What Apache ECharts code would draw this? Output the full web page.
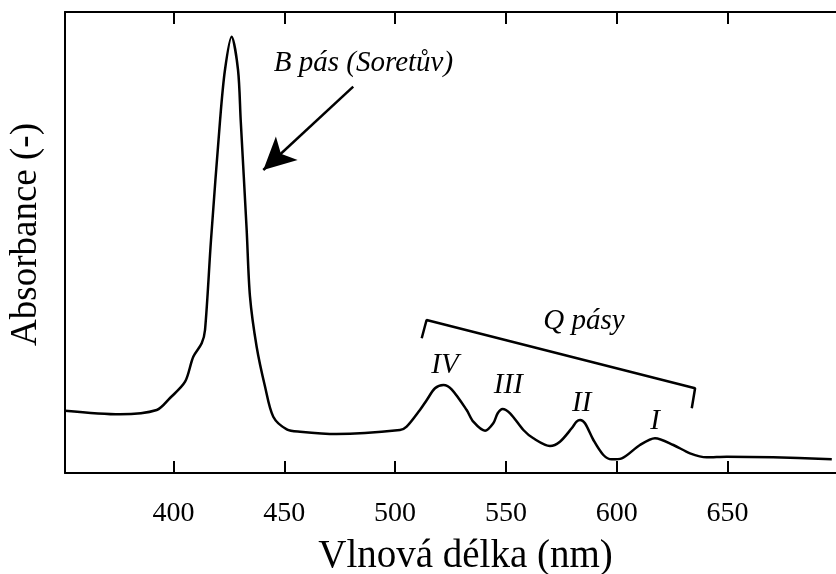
<!DOCTYPE html>
<html>
<head>
<meta charset="utf-8">
<script src="https://cdn.jsdelivr.net/npm/echarts@6/dist/echarts.min.js"></script>
<style>
  html, body { margin: 0; padding: 0; background: #fff; }
  #chart { width: 836px; height: 574px; }
</style>
</head>
<body>
<div id="chart"></div>
<script>
// spectrum: wavelength (nm) and absorbance (arbitrary units)
const wavelength = [351, 375.8, 392.4, 398.4, 405.2, 408.9, 412.7, 414.2, 416.9, 421.0, 423.2, 426.2,
  429.1, 430.3, 433.0, 434.5, 437.5, 441.3, 445.0, 451.1, 457.1, 473.6, 502.2, 505.2, 511.2, 514.3,
  518.0, 521.8, 525.5, 532.3, 535.3, 540.6, 544.3, 546.3, 548.5, 551.9, 557.9, 562.4, 569.9, 574.4,
  579.7, 581.9, 583.5, 585.7, 589.5, 594.0, 597.8, 602.3, 610.5, 617.3, 625.6, 633.1, 640.6, 649.7,
  670.6, 697.1];
const absorbance = [62.3, 58.7, 63, 75, 91.3, 116.3, 129.7, 143, 233, 353, 403, 436.3,
  403, 353, 243, 176.3, 126.3, 86.3, 56.3, 43.7, 41.3, 39, 43, 46.3, 63, 73,
  84.7, 88, 83.7, 63, 51.3, 42.3, 49.7, 59.7, 64, 59.7, 43, 34.7, 27, 31.3,
  44.7, 51.3, 53, 49.7, 33, 18, 13.7, 14.7, 28, 34.7, 28, 19.7, 15.7, 16.3,
  15.7, 13.7];

const xTicks = [400, 450, 500, 550, 600, 650];

// bracket over the Q bands
const bracketX = [512.0, 514.2, 635.4, 633.9];
const bracketY = [134.7, 153, 84.7, 64.7];

// arrow pointing at the Soret band: [start, end]
const arrowX = [481.1, 440.5];
const arrowY = [386.3, 303];

// italic annotations
const noteText = ['B pás (Soretův)', 'Q pásy', 'IV', 'III', 'II', 'I'];
const noteX = [485.7, 585.2, 522.5, 551.1, 584.2, 617.3];
const noteY = [409.7, 151.3, 108, 88, 69.7, 51.3];

const font = "'Liberation Serif', 'Times New Roman', serif";
const chart = echarts.init(document.getElementById('chart'));

const option = {
  animation: false,
  backgroundColor: '#fff',
  grid: { left: 65, right: 0, top: 12, bottom: 101, outerBoundsMode: 'none' },
  xAxis: [
    {
      type: 'value',
      min: 351,
      max: 699,
      name: 'Vlnová délka (nm)',
      nameLocation: 'middle',
      nameGap: 64,
      nameTextStyle: { fontFamily: font, fontSize: 39, color: '#000', padding: [0, 0, 0, 30] },
      axisLine: { lineStyle: { color: '#000', width: 2 } },
      axisTick: { inside: true, length: 12, customValues: xTicks, lineStyle: { color: '#000', width: 2 } },
      axisLabel: { customValues: xTicks, margin: 27, fontFamily: font, fontSize: 28, color: '#000' },
      splitLine: { show: false }
    },
    {
      type: 'value',
      position: 'top',
      min: 351,
      max: 699,
      axisLine: { lineStyle: { color: '#000', width: 2 } },
      axisTick: { inside: true, length: 12, customValues: xTicks, lineStyle: { color: '#000', width: 2 } },
      axisLabel: { show: false },
      splitLine: { show: false }
    }
  ],
  yAxis: {
    type: 'value',
    min: 0,
    max: 461,
    name: 'Absorbance (-)',
    nameLocation: 'middle',
    nameGap: 20,
    nameTextStyle: { fontFamily: font, fontSize: 37, color: '#000', padding: [0, 0, 0, 16] },
    axisLine: { show: true, lineStyle: { color: '#000', width: 2 } },
    axisTick: { show: false },
    axisLabel: { show: false },
    splitLine: { show: false }
  },
  series: [
    {
      type: 'line',
      data: wavelength.map((w, i) => [w, absorbance[i]]),
      smooth: 0.3,
      showSymbol: false,
      lineStyle: { color: '#000', width: 2.5 },
      z: 3
    },
    {
      type: 'line',
      data: bracketX.map((w, i) => [w, bracketY[i]]),
      showSymbol: false,
      lineStyle: { color: '#000', width: 2.5 },
      markLine: {
        silent: true,
        symbol: ['none', 'arrow'],
        symbolSize: [24, 32],
        lineStyle: { color: '#000', width: 2.5, type: 'solid' },
        label: { show: false },
        data: [[{ coord: [arrowX[0], arrowY[0]] }, { coord: [arrowX[1], arrowY[1]] }]]
      }
    },
    {
      type: 'scatter',
      symbolSize: 0,
      data: noteText.map((t, i) => ({ name: t, value: [noteX[i], noteY[i]] })),
      label: {
        show: true,
        position: 'inside',
        formatter: p => p.name,
        fontFamily: font,
        fontStyle: 'italic',
        fontSize: 29,
        color: '#000',
        opacity: 1,
        textBorderWidth: 0
      }
    }
  ]
};

chart.setOption(option);
window.addEventListener('resize', () => chart.resize());
</script>
</body>
</html>
